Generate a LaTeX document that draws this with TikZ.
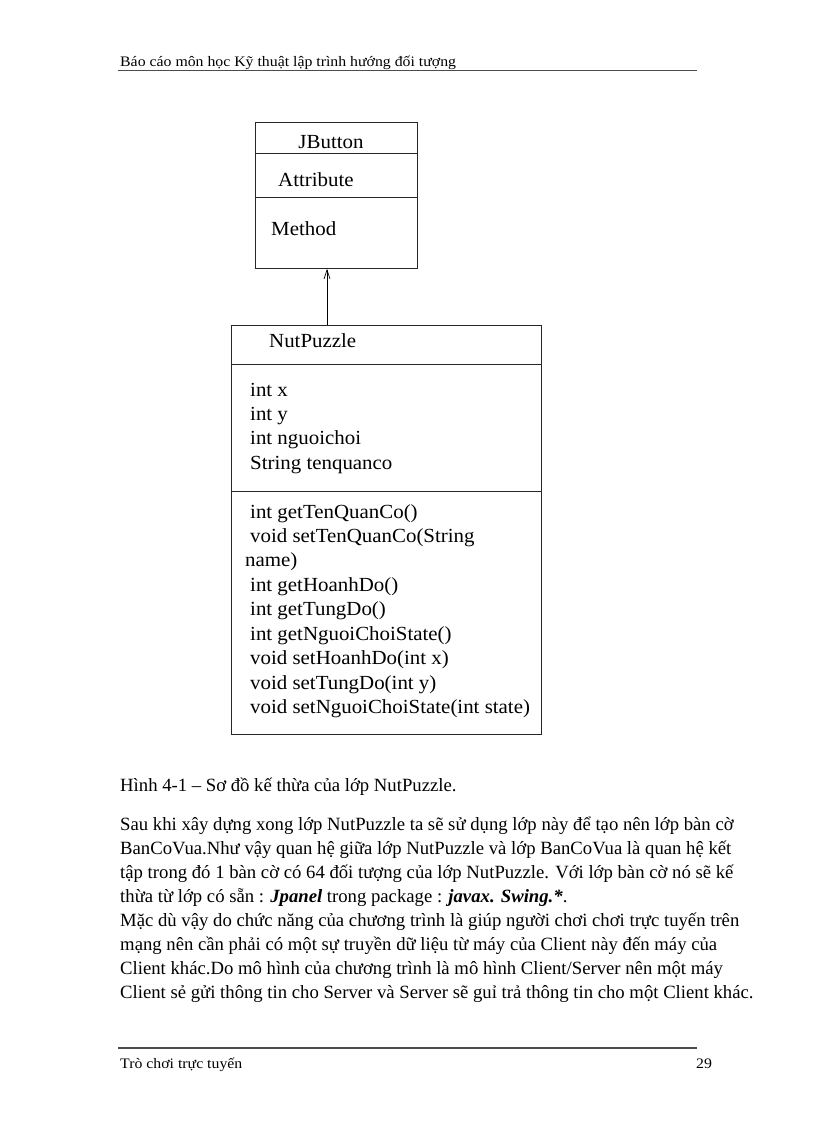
\documentclass[tikz,border=0pt]{standalone}
\usepackage{fontspec}
\setmainfont{Liberation Serif}
\newfontfamily\boxfont[FakeStretch=1.045]{Liberation Serif}
\newfontfamily\smallfont[FakeStretch=1.09]{Liberation Serif}
\usetikzlibrary{arrows.meta}
\begin{document}
\begin{tikzpicture}[x=1pt,y=-1pt,
  boxtxt/.style={anchor=base west,inner sep=0pt,font=\boxfont\fontsize{20}{24}\selectfont},
  bodytxt/.style={anchor=base west,inner sep=0pt,font=\fontsize{18.7}{23}\selectfont},
  smalltxt/.style={anchor=base west,inner sep=0pt,font=\smallfont\fontsize{14.5}{17}\selectfont},
  umlbox/.style={draw=black!85,line width=0.8pt,anchor=north west,inner sep=0pt},
  divider/.style={draw=black!85,line width=0.8pt},
  inherit/.style={draw=black,line width=0.7pt,-{Straight Barb[length=9pt,width=6pt]}},
  rule/.style={draw=black!70,line width=1pt}]
\useasboundingbox (0,0) rectangle (816,1123);
\fill[white] (0,0) rectangle (816,1123);

% header
\node[smalltxt] (hdr) at (120,67) {Báo cáo môn học Kỹ thuật lập trình  hướng  đối tượng};
\coordinate (hl1) at (118,70);
\coordinate (hl2) at (697,70);
\draw[rule,line width=0.8pt] (hl1) -- (hl2);

% JButton class
\node[umlbox,minimum width=162pt,minimum height=146pt] (jb) at (255,122) {};
\draw[divider] (255,153) -- (417,153);
\draw[divider] (255,197) -- (417,197);
\node[boxtxt,anchor=base] (jbname) at (331,148.5) {JButton};
\node[boxtxt] (jbattr) at (278,186.5) {Attribute};
\node[boxtxt] (jbmeth) at (271,235.5) {Method};

% NutPuzzle class
\node[umlbox,minimum width=310pt,minimum height=409pt] (np) at (231,325) {};
\draw[divider] (231,364) -- (541,364);
\draw[divider] (231,491) -- (541,491);
\node[boxtxt] (npname) at (269,347.5) {NutPuzzle};
\node[boxtxt] (a1) at (250,396.5) {int x};
\node[boxtxt] (a2) at (250,420.5) {int y};
\node[boxtxt] (a3) at (250,444.5) {int nguoichoi};
\node[boxtxt] (a4) at (250,469.5) {String tenquanco};
\node[boxtxt] (m1) at (250,518.5) {int getTenQuanCo()};
\node[boxtxt] (m2) at (250,542.5) {void setTenQuanCo(String};
\node[boxtxt] (m2b) at (245,566.5) {name)};
\node[boxtxt] (m3) at (250,591.5) {int getHoanhDo()};
\node[boxtxt] (m4) at (250,615.5) {int getTungDo()};
\node[boxtxt] (m5) at (250,640.5) {int getNguoiChoiState()};
\node[boxtxt] (m6) at (250,664.5) {void setHoanhDo(int x)};
\node[boxtxt] (m7) at (250,689.5) {void setTungDo(int y)};
\node[boxtxt] (m8) at (250,713.5) {void setNguoiChoiState(int  state)};

% inheritance arrow
\draw[inherit] (327,0 |- np.north) -- (327,0 |- jb.south);

% caption and paragraph
\node[bodytxt] (cap) at (120,791) {Hình 4-1 – Sơ đồ kế thừa của lớp NutPuzzle.};
\node[bodytxt] (p1) at (120,830) {Sau khi xây dựng xong lớp NutPuzzle ta sẽ sử dụng lớp này để tạo nên lớp bàn cờ};
\node[bodytxt] (p2) at (120,854) {BanCoVua.Như vậy quan hệ giữa lớp NutPuzzle và lớp BanCoVua là quan hệ kết};
\node[bodytxt] (p3) at (120,878) {tập trong đó 1 bàn cờ có 64 đối tượng của lớp NutPuzzle. Với lớp bàn cờ nó sẽ kế};
\node[bodytxt] (p4) at (120,902) {thừa từ lớp có sẵn : \textbf{\textit{Jpanel}} trong package : \textbf{\textit{javax. Swing.*}}.};
\node[bodytxt] (p5) at (120,926) {Mặc dù vậy do chức năng của chương trình là giúp người chơi chơi trực tuyến trên};
\node[bodytxt] (p6) at (120,950) {mạng nên cần phải có một sự truyền dữ liệu từ máy của Client này đến máy của};
\node[bodytxt] (p7) at (120,974) {Client khác.Do mô hình của chương trình là mô hình Client/Server nên một máy};
\node[bodytxt] (p8) at (120,998) {Client sẻ gửi thông tin cho Server và Server sẽ guỉ trả thông tin cho một Client khác.};

% footer
\coordinate (fl1) at (118,1048);
\coordinate (fl2) at (697,1048);
\draw[rule,line width=1.3pt] (fl1) -- (fl2);
\node[smalltxt] (ftr) at (120,1068) {Trò chơi trực tuyến};
\node[smalltxt] (pg) at (696,1068) {29};
\end{tikzpicture}
\end{document}
